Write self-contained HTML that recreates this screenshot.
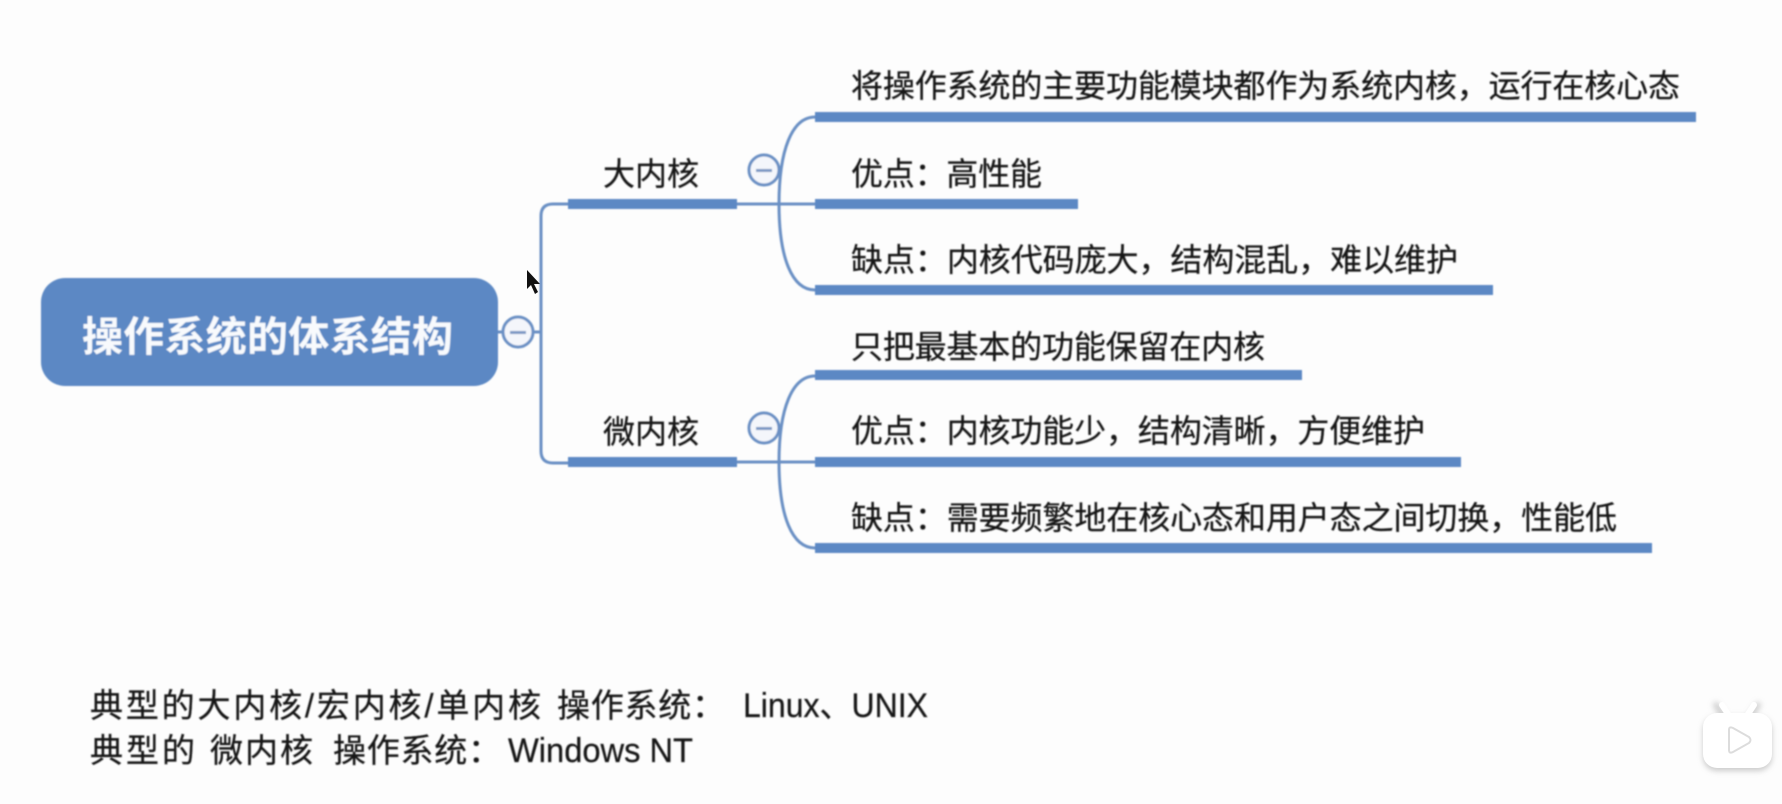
<!DOCTYPE html>
<html lang="zh"><head><meta charset="utf-8"><style>
html,body{margin:0;padding:0;width:1782px;height:804px;overflow:hidden;background:#fdfdfd}
svg{display:block}
text{font-family:"Liberation Sans","Noto Sans CJK SC",sans-serif;fill:#141414;font-size:32px;stroke:#141414;stroke-width:.25px}
</style></head><body>
<svg width="1782" height="804" viewBox="0 0 1782 804" xmlns="http://www.w3.org/2000/svg">
<defs>
<filter id="b" x="-5%" y="-20%" width="110%" height="140%"><feGaussianBlur stdDeviation="0.7"/></filter>
<filter id="s" x="-30%" y="-30%" width="160%" height="160%"><feGaussianBlur stdDeviation="3"/></filter>
</defs>
<g filter="url(#b)">
<rect x="41" y="278" width="457" height="108" rx="24" fill="#5b88c4"/>
<text x="82" y="351" style="font-size:41px;font-weight:700;fill:#f8fafd;stroke:none" textLength="371">操作系统的体系结构</text>
<g fill="none" stroke="#6a90c4" stroke-width="3">
<path d="M498 332H541M568 204H553Q541 204 541 216V451Q541 463 553 463H568"/>
<path d="M736 204H815M815 117C792 117 779 150 779 204C779 258 792 290 815 290"/>
<path d="M736 462H815M815 376C792 376 779 409 779 462C779 516 792 548 815 548"/>
</g>
<g fill="#f4f6fb" stroke="#6a90c4" stroke-width="3">
<circle cx="518" cy="332" r="15"/><circle cx="764" cy="170" r="15"/><circle cx="764" cy="428" r="15"/>
</g>
<g fill="#7b98c4">
<rect x="510" y="331" width="16" height="3"/><rect x="756" y="169" width="16" height="3"/><rect x="756" y="427" width="16" height="3"/>
</g>
<g fill="#5b88c4">
<rect x="568" y="199" width="169" height="10"/><rect x="568" y="457" width="169" height="10"/>
<rect x="815" y="112" width="881" height="10"/>
<rect x="815" y="199" width="263" height="10"/>
<rect x="815" y="285" width="678" height="10"/>
<rect x="815" y="370" width="487" height="10"/>
<rect x="815" y="457" width="646" height="10"/>
<rect x="815" y="543" width="837" height="10"/>
</g>
<text x="603" y="185" textLength="96">大内核</text>
<text x="603" y="443" textLength="96">微内核</text>
<text x="851" y="97" textLength="829">将操作系统的主要功能模块都作为系统内核&#xFF0C;运行在核心态</text>
<text x="851" y="185" textLength="191">优点&#xFF1A;高性能</text>
<text x="851" y="271" textLength="607">缺点&#xFF1A;内核代码庞大&#xFF0C;结构混乱&#xFF0C;难以维护</text>
<text x="851" y="358" textLength="414">只把最基本的功能保留在内核</text>
<text x="851" y="442" textLength="574">优点&#xFF1A;内核功能少&#xFF0C;结构清晰&#xFF0C;方便维护</text>
<text x="851" y="529" textLength="766">缺点&#xFF1A;需要频繁地在核心态和用户态之间切换&#xFF0C;性能低</text>
<g>
<text x="90" y="717" style="font-size:33px" textLength="451">典型的大内核/宏内核/单内核</text>
<text x="557" y="717" style="font-size:33px" textLength="168">操作系统&#xFF1A;</text>
<text x="743" y="717" style="font-size:34px" lengthAdjust="spacingAndGlyphs" textLength="185">Linux、UNIX</text>
<text x="90" y="762" style="font-size:33px" textLength="105">典型的</text>
<text x="210" y="762" style="font-size:33px" textLength="103">微内核</text>
<text x="333" y="762" style="font-size:33px" textLength="168">操作系统&#xFF1A;</text>
<text x="508" y="762" style="font-size:34px" lengthAdjust="spacingAndGlyphs" textLength="185">Windows NT</text>
</g>
</g>
<path d="M527 270V289L531 285L535 294L538 292L534 284L540 284Z" fill="#111"/>
<g filter="url(#s)" opacity=".5">
<rect x="1703" y="716" width="69" height="55" rx="14" fill="#9a9a9a"/>
<path d="M1724 716L1716 705M1750 716L1758 705" stroke="#9a9a9a" stroke-width="6" stroke-linecap="round"/>
</g>
<g fill="#fff">
<path d="M1728 714L1722 705M1748 714L1754 705" stroke="#fff" stroke-width="6" stroke-linecap="round"/>
<rect x="1703" y="713" width="69" height="55" rx="14"/>
</g>
<path d="M1729 730Q1729 726 1733 728L1749 737Q1752 740 1749 743L1733 752Q1729 754 1729 750Z" fill="#fff" stroke="#dcdcdc" stroke-width="2"/>
</svg>
</body></html>
